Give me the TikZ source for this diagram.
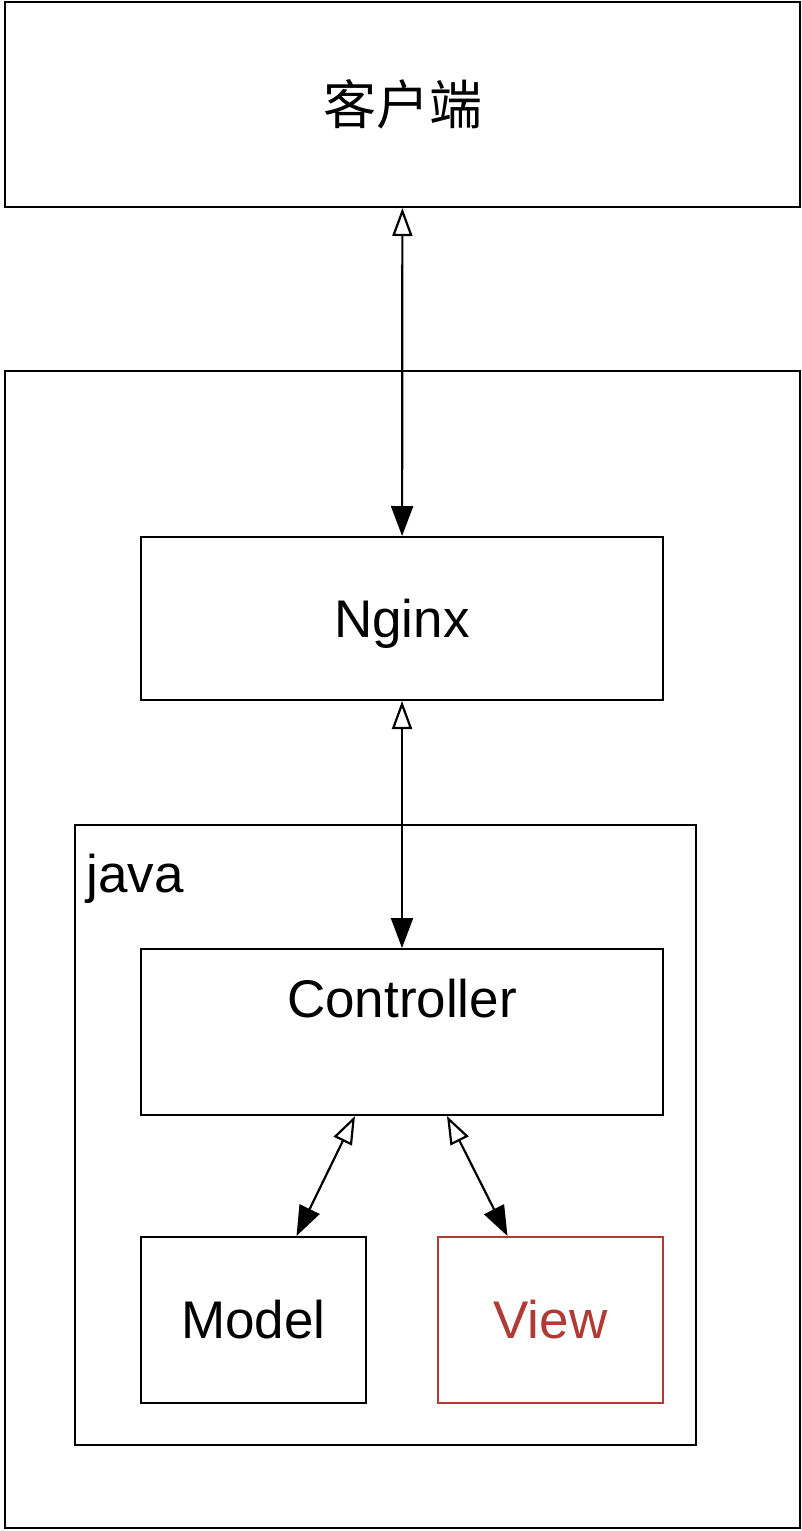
\documentclass[tikz,border=0pt]{standalone}
\usepackage{fontspec}
\setmainfont{Liberation Sans}
\newfontfamily\cjk{Noto Sans CJK SC}
\usetikzlibrary{arrows.meta}
\definecolor{viewred}{HTML}{B13A34}
\tikzset{
  box/.style={draw, line width=1pt, inner sep=0pt, font=\fontsize{26.5}{30}\selectfont},
  txt/.style={inner sep=0pt, font=\fontsize{26.5}{30}\selectfont},
  link/.style={line width=1.1pt, {Triangle[open,length=14pt,width=10pt]}-{Triangle[length=15pt,width=11pt]}}
}
\begin{document}
\begin{tikzpicture}[x=0.5pt,y=-0.5pt]
\useasboundingbox (0,0) rectangle (802,1531);
%\draw (0,0) rectangle (802,1531);
\node[box, minimum width=397.5pt, minimum height=102.5pt] (client) at (402.5,104.5) {\cjk 客户端};
\node[box, minimum width=397.5pt, minimum height=578.5pt] (server) at (402.5,949.5) {};
\node[box, text depth=0pt, minimum width=261pt, minimum height=81.5pt] (nginx) at (402,618.5) {Nginx};
\node[box, minimum width=310.5pt, minimum height=310pt] (java) at (385.5,1135) {};
\node[txt, anchor=west] (javalbl) at (86,879) {java};
\node[box, minimum width=261pt, minimum height=83pt] (ctrl) at (402,1032) {};
\node[txt] (ctrllbl) at (402,999) {Controller};
\node[box, minimum width=112.5pt, minimum height=83pt] (model) at (253.5,1320) {Model};
\node[box, draw=viewred, text=viewred, minimum width=112.5pt, minimum height=83pt] (view) at (550.5,1320) {View};
\draw[link] (client) -- (nginx);
\draw[link] (nginx) -- (ctrl);
\draw[link] ([xshift=-23.5pt]ctrl.south) -- ([xshift=21.5pt]model.north);
\draw[link] ([xshift=22.5pt]ctrl.south) -- ([xshift=-21.5pt]view.north);
\end{tikzpicture}
\end{document}
